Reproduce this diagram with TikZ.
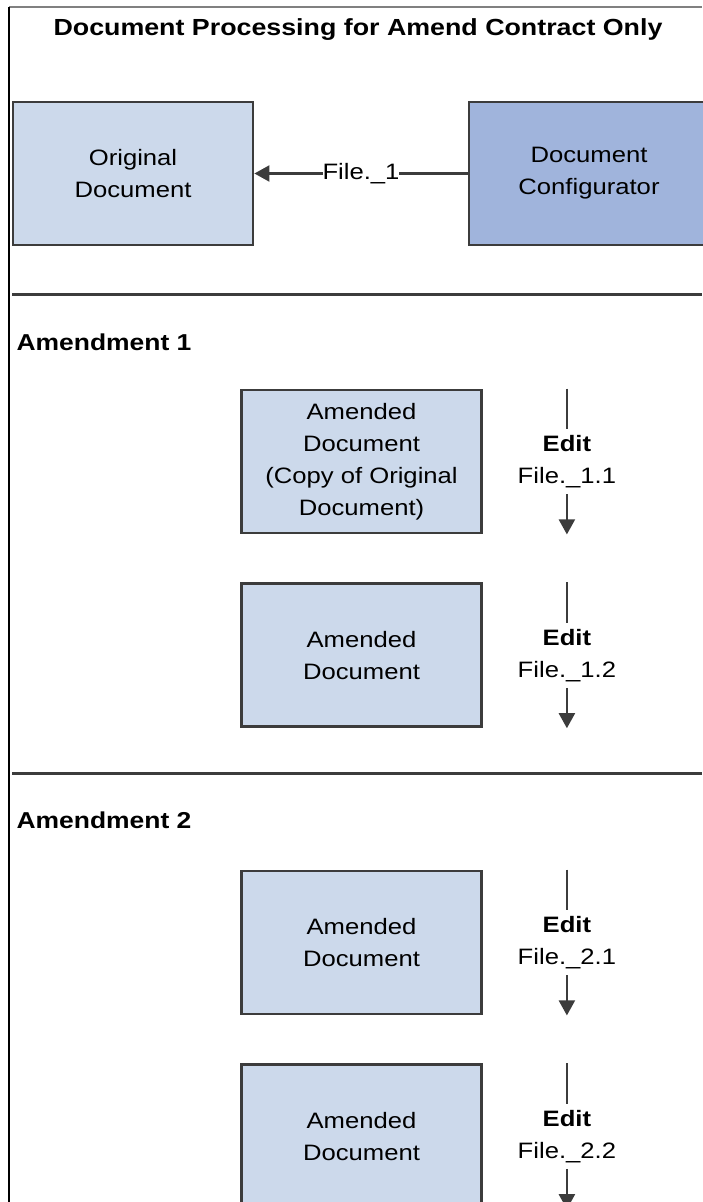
\documentclass[tikz,border=0pt]{standalone}
\usepackage{fontspec}
\setmainfont{Liberation Sans}[FakeStretch=1.15]
\usepackage{tikz}
\usetikzlibrary{arrows.meta,positioning,calc}
\definecolor{origblue}{RGB}{204,217,235}
\definecolor{confblue}{RGB}{160,180,220}
\definecolor{edgegray}{RGB}{60,60,60}
\tikzset{
  docbox/.style ={draw=edgegray, line width=2.8pt, fill=origblue, align=center,
                  minimum width=240pt, minimum height=143pt, inner sep=0pt,
                  font=\fontsize{22.3}{32}\selectfont},
  confbox/.style={docbox, fill=confblue},
  editlbl/.style={align=center, inner xsep=0pt, inner ysep=6pt,
                  font=\fontsize{22.3}{32}\selectfont},
  seclbl/.style ={anchor=base west, font=\fontsize{23}{28}\selectfont\bfseries},
  arr/.style    ={-{Triangle[length=15pt,width=16pt]}, line width=2.2pt, draw=edgegray},
  sline/.style  ={line width=2.2pt, draw=edgegray},
  sepline/.style={line width=3pt, draw=edgegray},
}
\begin{document}
\begin{tikzpicture}[x=1pt,y=-1pt,node distance=48pt]
  \useasboundingbox (0,0) rectangle (702,1202);
  \draw[gray, line width=1.5pt] (9,7) -- (702,7);
  \draw[black, line width=1.5pt] (9,7) -- (9,1202);
  \node[anchor=base, font=\fontsize{23.3}{28}\selectfont\bfseries] (title) at (358,35)
    {Document Processing for Amend Contract Only};
  \node[docbox] (orig) at (133,173.5) {Original\\Document};
  \node[confbox] (conf) at (589,173.5) {Document\\Configurator};
  \draw[arr] (conf) -- node[fill=white, inner sep=0pt, font=\fontsize{22.3}{28}\selectfont] (file1) {File.\_1} (orig);
  %% Amendment 1
  \draw[sepline] (12,294) -- (702,294);
  \node[seclbl] (amd1) at (13,350) {Amendment 1};
  \node[docbox] (a11) at (361.5,461.5) {Amended\\Document\\(Copy of Original\\Document)};
  \node[docbox, below=of a11] (a12) {Amended\\Document};
  %% Amendment 2
  \draw[sepline] (12,773) -- (702,773);
  \node[seclbl] (amd2) at (13,828) {Amendment 2};
  \node[docbox] (a21) at (361.5,942.5) {Amended\\Document};
  \node[docbox, below=of a21] (a22) {Amended\\Document};
  \foreach \bx/\fn/\ed in {a11/1.1/e11, a12/1.2/e12, a21/2.1/e21, a22/2.2/e22}{
    \node[editlbl] (\ed) at ($(\bx.east)+(84,0)$) {\textbf{Edit}\\File.\_\fn};
    \draw[sline] (\ed.north |- \bx.north) -- (\ed.north);
    \draw[arr] (\ed.south) -- (\ed.south |- \bx.south);
  }
\end{tikzpicture}
\end{document}
